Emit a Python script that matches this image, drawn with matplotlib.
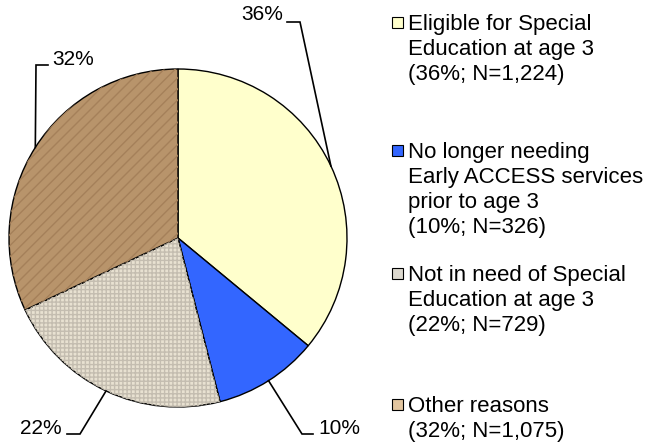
import numpy as np
import matplotlib
matplotlib.use("Agg")
import matplotlib.pyplot as plt
from matplotlib.patches import Rectangle

# --- Data ---
categories = [
    "Eligible for Special\nEducation at age 3",
    "No longer needing\nEarly ACCESS services\nprior to age 3",
    "Not in need of Special\nEducation at age 3",
    "Other reasons",
]
percents = [36, 10, 22, 32]
counts = [1224, 326, 729, 1075]
colors = ["#FFFFCC", "#3366FF", "#E8E1D1", "#B8946B"]
# legend swatches are shown as a flat average of the textures
swatch_colors = ["#FFFFCC", "#3366FF", "#DCD8CE", "#E3C6A0"]
# ---------------------

W, H = 649, 444
plt.rcParams["font.family"] = ["Liberation Sans", "DejaVu Sans"]

fig = plt.figure(figsize=(W / 100, H / 100), dpi=100)
fig.patch.set_facecolor("white")

# pie centre (178, 238) px, radius 169 px
cx, cy, r = 178, 238, 169
ax = fig.add_axes([(cx - r) / W, (H - cy - r) / H, 2 * r / W, 2 * r / H])

wedges, _ = ax.pie(percents, colors=colors, startangle=90, counterclock=False,
                   radius=1, wedgeprops=dict(edgecolor="black", linewidth=1.0))

# rough texture on the two patterned slices
tex, _ = ax.pie(percents, colors=["none"] * len(percents), startangle=90,
                counterclock=False, radius=1,
                wedgeprops=dict(edgecolor="none", linewidth=0))
tex[2].set_hatch("++++")
tex[2].set_edgecolor("#C4BDB0")
tex[3].set_hatch("///")
tex[3].set_edgecolor("#A5805A")
for w in tex:
    w.set_linewidth(0)

# pie() resets limits, so set them afterwards
ax.set_xlim(-1, 1)
ax.set_ylim(-1, 1)
ax.set_aspect("equal")
ax.axis("off")


def d(x, y):
    # pixel -> pie data coords
    return (x - cx) / r, (cy - y) / r


# leader line layout per slice: elbow, stub end, text anchor, alignment
label_layout = [
    (d(300, 22), d(287, 22), d(283, 14), "right"),
    (d(302, 434), d(313, 434), d(318, 428), "left"),
    (d(80, 434), d(67, 434), d(62, 428), "right"),
    (d(36, 65), d(48, 65), d(52, 59), "left"),
]

for w, p, (elbow, stub, txt, ha) in zip(wedges, percents, label_layout):
    mid = np.deg2rad((w.theta1 + w.theta2) / 2)
    ex, ey = np.cos(mid), np.sin(mid)
    ax.plot([ex, elbow[0], stub[0]], [ey, elbow[1], stub[1]], color="black",
            lw=1.2, clip_on=False, solid_joinstyle="miter")
    ax.text(txt[0], txt[1], f"{p}%", ha=ha, va="center", fontsize=15, clip_on=False)

# --- Legend ---
first_baselines = [30, 158, 281, 412]
line_step = 25
for cat, p, n, col, yb in zip(categories, percents, counts, swatch_colors, first_baselines):
    fig.add_artist(Rectangle((392 / W, 1 - (yb - 2) / H), 11 / W, 11 / H,
                             transform=fig.transFigure, facecolor=col,
                             edgecolor="black", linewidth=0.8))
    lines = cat.split("\n") + [f"({p}%; N={n:,})"]
    for i, line in enumerate(lines):
        fig.text(408 / W, 1 - (yb + i * line_step) / H, line,
                 ha="left", va="baseline", fontsize=16)

fig.savefig("out.png", dpi=100)
